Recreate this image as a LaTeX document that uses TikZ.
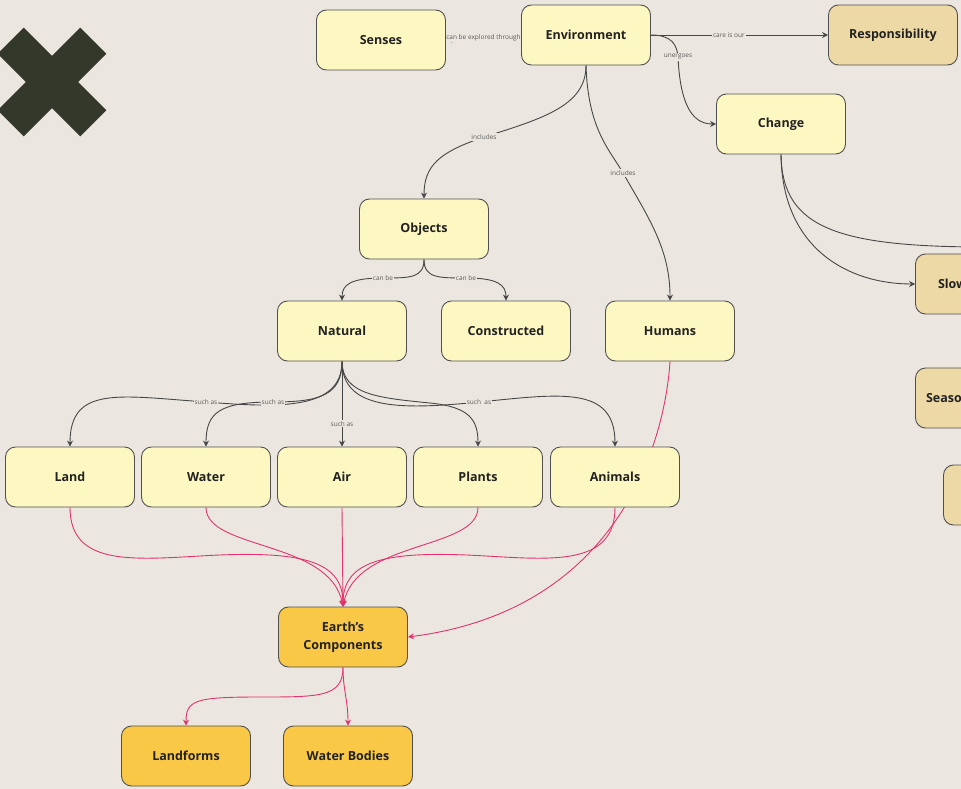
\documentclass[tikz,border=0pt]{standalone}
\usepackage{fontspec}
\setmainfont{Open Sans}
\usetikzlibrary{arrows.meta}

\definecolor{paper}{HTML}{EBE7E0}
\definecolor{boxline}{HTML}{505050}
\definecolor{pale}{HTML}{FDF7C1}
\definecolor{sand}{HTML}{EDD9A6}
\definecolor{amber}{HTML}{F9C846}
\definecolor{wire}{HTML}{474747}
\definecolor{magenta}{HTML}{E2336E}
\definecolor{note}{HTML}{5A5A5A}
\definecolor{ink}{HTML}{222222}
\definecolor{crossink}{HTML}{33382A}

\pgfdeclarelayer{back}
\pgfdeclarelayer{links}
\pgfsetlayers{back,links,main}

\tikzset{
  card/.style={draw=boxline, line width=0.9pt, rounded corners=10pt,
    minimum width=129pt, minimum height=60pt, inner sep=2pt,
    text=ink, align=center,
    font=\bfseries\fontsize{12.5}{18}\selectfont},
  ycard/.style={card, fill=pale},
  scard/.style={card, fill=sand},
  ocard/.style={card, fill=amber},
  link/.style={draw=wire, line width=0.9pt,
    -{Stealth[length=6pt,width=6pt]}},
  plink/.style={draw=magenta, line width=0.9pt,
    -{Stealth[length=6pt,width=6pt]}},
  lbl/.style={fill=paper, inner sep=1pt, text=note,
    font=\fontsize{6.5}{8}\selectfont}
}

\begin{document}
\begin{tikzpicture}[x=1pt,y=-1pt]
\useasboundingbox (0,0) rectangle (961,789);
\begin{pgfonlayer}{back}
  \fill[paper] (0,0) rectangle (961,789);
\end{pgfonlayer}

% close mark in the upper left corner
\fill[crossink, rotate around={45:(52,82)}] (-6.5,63.5) rectangle (110.5,100.5);
\fill[crossink, rotate around={-45:(52,82)}] (-6.5,63.5) rectangle (110.5,100.5);

% concept cards
\node[ycard] (sen)  at (381,40)  {Senses};
\node[ycard] (env)  at (586,35)  {Environment};
\node[scard] (resp) at (893,35)  {Responsibility};
\node[ycard] (chg)  at (781,124) {Change};
\node[scard, text width=84pt, align=left] (slow) at (980,284) {Slow};
\node[scard, text width=108pt, align=left] (seas) at (980,398) {Seasonal};
\node[scard] (more) at (1008,495) {};

\node[ycard] (obj)  at (424,229) {Objects};
\node[ycard] (nat)  at (342,331) {Natural};
\node[ycard] (con)  at (506,331) {Constructed};
\node[ycard] (hum)  at (670,331) {Humans};

\node[ycard] (land)   at (70,477)  {Land};
\node[ycard] (water)  at (206,477) {Water};
\node[ycard] (air)    at (342,477) {Air};
\node[ycard] (plants) at (478,477) {Plants};
\node[ycard] (anim)   at (615,477) {Animals};

\node[ocard] (ec)   at (343,637) {\raisebox{-2pt}{Earth\char39 s}\\\raisebox{-2pt}{Components}};
\node[ocard] (lf)   at (186,756) {Landforms};
\node[ocard] (wb)   at (348,756) {Water Bodies};

\coordinate (beyond) at (1000,247);

\begin{pgfonlayer}{links}
  % environment relations
  \draw[link] (env.west) -- node[lbl] {can be explored through} (sen.east);
  \draw[link] (env.east) -- node[lbl, pos=0.44] {care is our} (resp.west);
  \draw[link] (env.east) .. controls (672,35) and (677,45) .. (678,57)
      node[lbl] {unergoes}
      .. controls (680,100) and (690,124) .. (chg.west);
  \draw[link] (env.south) .. controls (586,105) and (545,118) .. (484,137)
      node[lbl] {includes}
      .. controls (440,152) and (424,165) .. (obj.north);
  \draw[link] (env.south) .. controls (588,130) and (610,150) .. (623,173)
      node[lbl] {includes}
      .. controls (650,220) and (670,250) .. (hum.north);

  % change
  \draw[link] (chg.south) .. controls (782,250) and (850,284) .. (slow.west);
  \draw[wire, line width=0.9pt] (chg.south) .. controls (782,230) and (840,248) .. (beyond);

  % objects
  \draw[link] (obj.south) .. controls (424,278) and (410,278) .. (383,278)
      node[lbl] {can be}
      .. controls (350,278) and (342,285) .. (nat.north);
  \draw[link] (obj.south) .. controls (424,278) and (438,278) .. (466,278)
      node[lbl] {can be}
      .. controls (498,278) and (506,285) .. (con.north);

  % natural examples
  \draw[link] (nat.south) .. controls (342,410) and (280,408) .. (206,402)
      node[lbl] {such as}
      .. controls (120,396) and (70,385) .. (land.north);
  \draw[link] (nat.south) .. controls (342,395) and (320,402) .. (273,402)
      node[lbl] {such as}
      .. controls (220,402) and (206,412) .. (water.north);
  \draw[link] (nat.south) -- node[lbl, pos=0.73] {such as} (air.north);
  \draw[link] (nat.south) .. controls (342,395) and (380,398) .. (430,403)
      .. controls (470,407) and (478,420) .. (plants.north);
  \draw[link] (nat.south) .. controls (342,410) and (400,410) .. (479,402)
      node[lbl] {such\ \ as}
      .. controls (560,394) and (615,385) .. (anim.north);

  % components of the earth
  \draw[plink] (land.south) .. controls (70,565) and (130,560) .. (200,556)
      .. controls (300,550) and (343,560) .. (ec.north);
  \draw[plink] (water.south) .. controls (206,550) and (330,540) .. (ec.north);
  \draw[plink] (air.south) -- (ec.north);
  \draw[plink] (plants.south) .. controls (478,550) and (356,540) .. (ec.north);
  \draw[plink] (anim.south) .. controls (615,565) and (555,560) .. (486,556)
      .. controls (386,550) and (343,560) .. (ec.north);
  \draw[plink] (hum.south) .. controls (665,440) and (620,610) .. (ec.east);
  \draw[plink] (ec.south) .. controls (343,697) and (320,697) .. (260,697)
      .. controls (195,697) and (186,700) .. (lf.north);
  \draw[plink] (ec.south) .. controls (343,690) and (348,700) .. (wb.north);
\end{pgfonlayer}
\end{tikzpicture}
\end{document}
